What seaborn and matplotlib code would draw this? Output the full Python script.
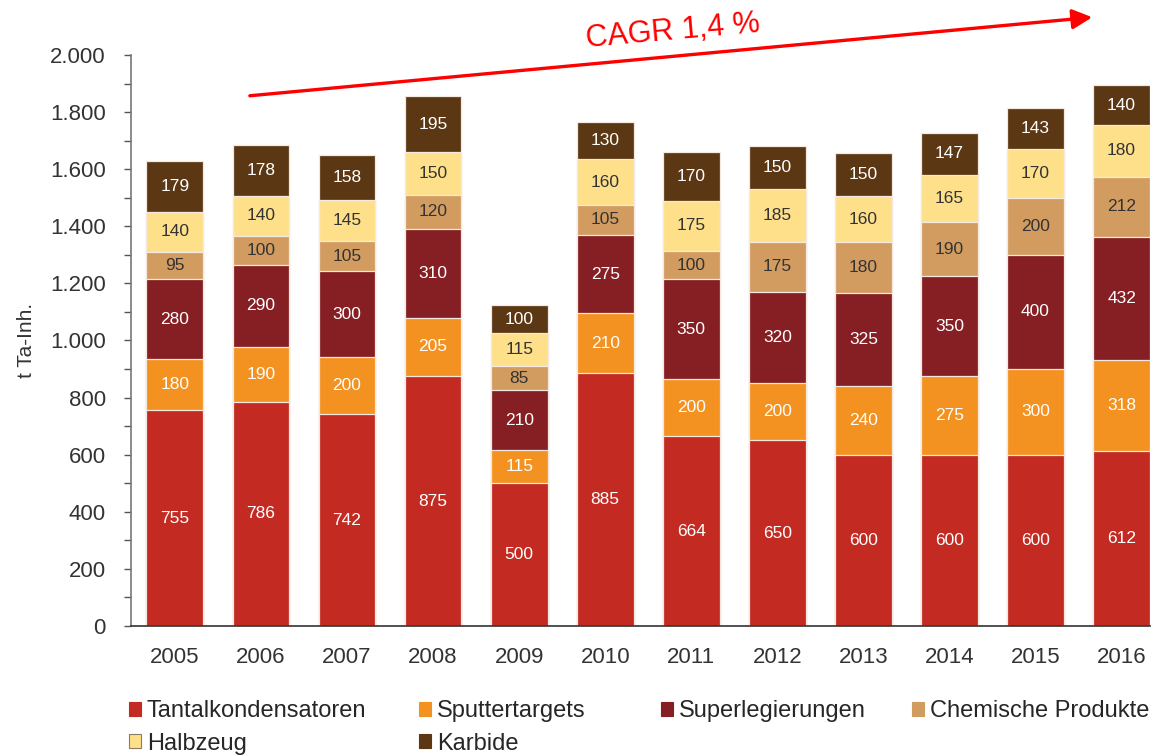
"""Stacked bar chart: tantalum demand by application, 2005-2016."""
import matplotlib
matplotlib.use("Agg")
import matplotlib.pyplot as plt
from matplotlib.patches import Patch
from matplotlib.ticker import FuncFormatter, MultipleLocator
import numpy as np
import seaborn as sns

YEARS = ["2005", "2006", "2007", "2008", "2009", "2010",
         "2011", "2012", "2013", "2014", "2015", "2016"]

SERIES = ["Tantalkondensatoren", "Sputtertargets", "Superlegierungen",
          "Chemische Produkte", "Halbzeug", "Karbide"]

tantalkondensatoren = [755, 786, 742, 875, 500, 885, 664, 650, 600, 600, 600, 612]
sputtertargets = [180, 190, 200, 205, 115, 210, 200, 200, 240, 275, 300, 318]
superlegierungen = [280, 290, 300, 310, 210, 275, 350, 320, 325, 350, 400, 432]
chemische_produkte = [95, 100, 105, 120, 85, 105, 100, 175, 180, 190, 200, 212]
halbzeug = [140, 140, 145, 150, 115, 160, 175, 185, 160, 165, 170, 180]
karbide = [179, 178, 158, 195, 100, 130, 170, 150, 150, 147, 143, 140]

COLORS = ["#C32B22", "#F39220", "#861F24", "#D29C61", "#FFE08A", "#5C3714"]
LABEL_COLORS = ["white", "white", "white", "#333333", "#333333", "white"]

sns.set_style("white")
plt.rcParams["font.family"] = ["Liberation Sans", "DejaVu Sans"]

values = np.array([tantalkondensatoren, sputtertargets, superlegierungen,
                   chemische_produkte, halbzeug, karbide], dtype=float)
tops = values.cumsum(axis=0)
bottoms = tops - values

fig = plt.figure(figsize=(11.6, 7.56), dpi=100)
ax = fig.add_axes([0.1129, 0.172, 0.8785, 0.7553])

# draw the cumulative totals from the top layer down so each lower layer covers the one above
for i in reversed(range(len(SERIES))):
    sns.barplot(x=YEARS, y=tops[i], color=COLORS[i], saturation=1, width=0.66,
                edgecolor="#F4E9E0", linewidth=0.9, ax=ax)

for i in range(len(SERIES)):
    for j in range(len(YEARS)):
        ax.text(j, bottoms[i, j] + values[i, j] / 2, f"{values[i, j]:.0f}",
                ha="center", va="center", fontsize=12.5, color=LABEL_COLORS[i])

ax.set_xlim(-0.51, 11.33)
ax.set_ylim(0, 2000)
ax.yaxis.set_major_locator(MultipleLocator(200))
ax.yaxis.set_minor_locator(MultipleLocator(100))
ax.yaxis.set_major_formatter(FuncFormatter(lambda v, _: f"{v:,.0f}".replace(",", ".")))
ax.tick_params(axis="y", which="major", length=5, width=1, color="#555555",
               labelsize=16, labelcolor="#333333", pad=13, left=True)
ax.tick_params(axis="y", which="minor", length=5, width=1, color="#555555", left=True)
ax.tick_params(axis="x", length=0, labelsize=16, labelcolor="#333333", pad=15)
ax.set_xlabel("")
ax.set_ylabel("t Ta-Inh.", fontsize=15, color="#333333", labelpad=10)

for side in ["top", "right"]:
    ax.spines[side].set_visible(False)
ax.spines["left"].set_color("#777777")
ax.spines["bottom"].set_color("#333333")
ax.spines["left"].set_linewidth(1.2)
ax.spines["bottom"].set_linewidth(1.2)

# CAGR arrow and label above the bars
fig.add_artist(matplotlib.patches.FancyArrowPatch(
    (0.213, 0.873), (0.944, 0.9775), transform=fig.transFigure,
    arrowstyle="-|>,head_length=12,head_width=6", color="#FF0000",
    linewidth=2.4, mutation_scale=1))
fig.text(0.58, 0.958, "CAGR 1,4 %", color="#FF0000", fontsize=22,
         rotation=5, ha="center", va="center")

# legend laid out as four separate columns like the original
columns = [[0, 4], [1, 5], [2], [3]]
x_positions = [0.111, 0.361, 0.570, 0.786]
for col, x in zip(columns, x_positions):
    handles = [Patch(facecolor=COLORS[k], edgecolor="#8a7a60" if k == 4 else COLORS[k],
                     linewidth=0.8, label=SERIES[k]) for k in col]
    leg = fig.legend(handles=handles, loc="upper left", bbox_to_anchor=(x, 0.074),
                     frameon=False, fontsize=17, borderpad=0, borderaxespad=0,
                     handlelength=0.52, handleheight=0.52, handletextpad=0.25,
                     labelspacing=0.45)
    for t in leg.get_texts():
        t.set_color("#262626")

fig.savefig("out.png", dpi=100)
